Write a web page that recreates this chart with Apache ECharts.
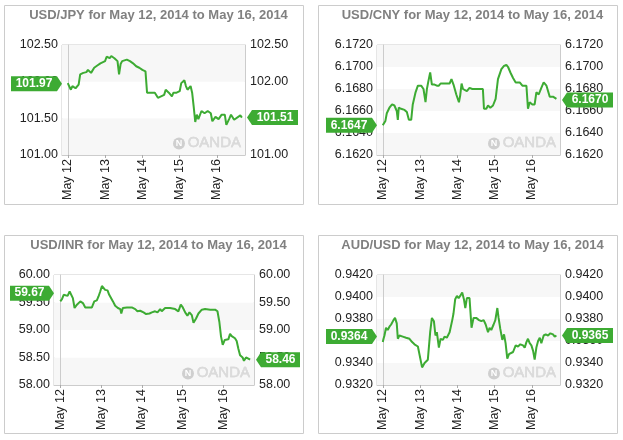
<!DOCTYPE html>
<html>
<head>
<meta charset="utf-8">
<script src="https://cdn.jsdelivr.net/npm/echarts@6/dist/echarts.min.js"></script>
<style>
  html, body { margin: 0; padding: 0; background: #fff; }
  #chart { width: 623px; height: 440px; }
</style>
</head>
<body>
<div id="chart"></div>
<script>
// hours after May 12 00:00, rate
const usdJpy = [[0,101.98],[1,101.96],[2,101.89],[3,101.94],[5,101.91],[7,101.96],[8,102.10],[10,102.12],[12,102.13],[13,102.16],[15,102.12],[17,102.19],[19,102.22],[21,102.25],[24,102.28],[25,102.34],[27,102.32],[28,102.35],[30,102.32],[31,102.30],[32,102.28],[33,102.10],[34,102.24],[35,102.28],[38,102.30],[40,102.28],[42,102.25],[44,102.21],[46,102.19],[48,102.16],[50,102.14],[51,101.85],[54,101.85],[56,101.85],[58,101.78],[59,101.79],[60,101.80],[62,101.82],[63,101.89],[65,101.85],[67,101.80],[68,101.85],[70,101.85],[72,101.87],[73,101.98],[75,102.02],[76,101.94],[77,101.89],[79,101.94],[80,101.85],[81,101.66],[82,101.45],[83,101.55],[84,101.49],[86,101.60],[88,101.57],[90,101.60],[92,101.57],[93,101.46],[95,101.52],[97,101.49],[99,101.55],[101,101.55],[102,101.41],[104,101.50],[105,101.55],[107,101.48],[108,101.49],[111,101.54],[112,101.51]];

const usdCny = [[0,6.1647],[0.6,6.1646],[1.7,6.1651],[2.6,6.1658],[4.3,6.1663],[6.0,6.1666],[7.5,6.1665],[9.0,6.1660],[9.7,6.1652],[10.3,6.1663],[11.8,6.1662],[14.0,6.1661],[15.5,6.1659],[16.8,6.1652],[18.3,6.1652],[19.3,6.1666],[21.1,6.1677],[22.6,6.1683],[24.7,6.1683],[26.2,6.1680],[27.5,6.1668],[28.4,6.1680],[29.2,6.1686],[30.5,6.1695],[31.6,6.1684],[33.3,6.1684],[34.8,6.1683],[36.1,6.1683],[37.2,6.1685],[39.7,6.1685],[43.0,6.1685],[44.2,6.1689],[45.5,6.1684],[47.3,6.1675],[49.0,6.1668],[49.8,6.1674],[50.7,6.1685],[51.6,6.1680],[52.8,6.1681],[54.1,6.1678],[55.8,6.1681],[57.6,6.1680],[59.1,6.1680],[61.9,6.1680],[64.4,6.1680],[65.1,6.1662],[66.6,6.1662],[67.7,6.1665],[69.2,6.1663],[70.9,6.1665],[72.6,6.1671],[74.1,6.1689],[76.3,6.1698],[78.0,6.1701],[79.5,6.1702],[80.6,6.1700],[82.1,6.1695],[83.8,6.1690],[85.5,6.1686],[88.1,6.1686],[89.8,6.1683],[92.4,6.1683],[93.4,6.1662],[94.5,6.1668],[96.2,6.1666],[97.7,6.1666],[98.8,6.1677],[100.3,6.1675],[102.0,6.1681],[103.5,6.1686],[105.3,6.1683],[107.4,6.1673],[109.5,6.1673],[111.7,6.1671]];

const usdInr = [[0,59.52],[1.0,59.56],[2.0,59.64],[2.9,59.61],[4.3,59.62],[5.5,59.70],[6.3,59.68],[7.4,59.58],[8.4,59.40],[9.8,59.46],[11.8,59.52],[13.3,59.49],[14.7,59.41],[16.7,59.41],[18.6,59.41],[20.0,59.52],[21.5,59.54],[22.5,59.61],[23.5,59.70],[24.5,59.80],[25.5,59.78],[26.4,59.73],[27.8,59.72],[28.8,59.64],[29.8,59.62],[31.0,59.52],[32.3,59.44],[33.9,59.40],[35.3,59.38],[35.9,59.30],[36.8,59.40],[39.2,59.41],[42.1,59.41],[44.1,59.38],[45.4,59.34],[47.0,59.35],[49.0,59.32],[50.5,59.29],[52.5,59.30],[53.9,59.32],[55.8,59.34],[57.2,59.32],[58.8,59.38],[59.7,59.34],[61.7,59.40],[64.6,59.40],[67.6,59.38],[69.5,59.34],[70.9,59.46],[72.1,59.41],[73.5,59.32],[74.8,59.26],[76.0,59.32],[77.4,59.27],[78.4,59.13],[79.9,59.21],[81.3,59.30],[83.3,59.37],[85.2,59.38],[88.2,59.37],[91.1,59.37],[92.5,59.34],[93.6,59.15],[94.6,58.88],[95.6,58.73],[96.8,58.82],[97.9,58.85],[98.9,58.83],[99.9,58.93],[100.9,58.89],[101.9,58.92],[102.8,58.85],[103.8,58.80],[104.8,58.66],[105.8,58.54],[107.3,58.50],[108.1,58.44],[109.3,58.50],[110.7,58.48],[111.7,58.46]];

const audUsd = [[0,0.9359],[0.5,0.9362],[1.1,0.9365],[2.1,0.9372],[3.2,0.9370],[4.3,0.9373],[5.4,0.9375],[6.9,0.9379],[7.9,0.9381],[9.0,0.9376],[9.7,0.9362],[10.7,0.9365],[12.9,0.9364],[15.0,0.9363],[17.2,0.9362],[18.9,0.9359],[20.4,0.9357],[22.6,0.9355],[23.6,0.9354],[25.3,0.9336],[26.9,0.9340],[29.0,0.9343],[30.5,0.9368],[31.6,0.9381],[32.9,0.9378],[33.9,0.9365],[34.8,0.9368],[36.1,0.9354],[37.2,0.9362],[38.7,0.9361],[39.7,0.9364],[41.2,0.9363],[43.0,0.9368],[44.7,0.9379],[45.5,0.9385],[46.6,0.9398],[47.7,0.9401],[48.8,0.9399],[49.8,0.9401],[51.1,0.9404],[52.2,0.9398],[53.1,0.9390],[54.1,0.9399],[55.8,0.9399],[57.1,0.9372],[58.4,0.9381],[60.1,0.9381],[61.9,0.9379],[63.4,0.9378],[64.9,0.9379],[66.2,0.9375],[67.7,0.9368],[68.7,0.9372],[69.8,0.9370],[71.3,0.9375],[72.4,0.9379],[73.7,0.9390],[74.5,0.9381],[75.6,0.9371],[76.9,0.9361],[78.0,0.9366],[79.0,0.9358],[80.1,0.9344],[81.2,0.9348],[82.3,0.9347],[83.8,0.9350],[85.5,0.9356],[87.0,0.9355],[88.5,0.9357],[90.2,0.9356],[91.3,0.9354],[92.4,0.9359],[93.4,0.9362],[94.5,0.9358],[95.6,0.9356],[96.7,0.9351],[97.7,0.9343],[98.8,0.9354],[99.9,0.9360],[101.0,0.9363],[102.0,0.9358],[103.5,0.9365],[104.8,0.9366],[106.3,0.9365],[107.8,0.9367],[109.5,0.9366],[110.6,0.9364],[111.7,0.9365]];

const dayTicks = [0, 24, 48, 72, 96];
const dayLabels = ['May 12', 'May 13', 'May 14', 'May 15', 'May 16'];
const pairs = ['USD/JPY', 'USD/CNY', 'USD/INR', 'AUD/USD'];
const openTags = ['101.97', '6.1647', '59.67', '0.9364'];
const closeTags = ['101.51', '6.1670', '58.46', '0.9365'];
const yRanges = [[101, 102.5, 0.5], [6.162, 6.172, 0.002], [58, 60, 0.5], [0.932, 0.942, 0.002]];
const yDecimals = [2, 4, 2, 4];

const X_MIN = -3.7
const X_MAX = 114
const GREEN = '#3dab33'
const FONT = 'Liberation Sans, Arial, sans-serif'

const seriesData = [usdJpy, usdCny, usdInr, audUsd]
const grids = [
  { left: 62, top: 45, width: 183, height: 110 },
  { left: 377, top: 45, width: 183, height: 110 },
  { left: 54, top: 275, width: 200, height: 110 },
  { left: 377, top: 275, width: 183, height: 110 }
]
const boxes = [[4, 5, 299, 199], [318, 5, 299, 199], [4, 235, 299, 198], [318, 235, 299, 198]]

const tagPath = (w, pointRight) => pointRight
  ? `path://M0,0L${w},0L${w + 5},7.5L${w},15L0,15Z`
  : `path://M5,0L${w + 5},0L${w + 5},15L5,15L0,7.5Z`

const option = {
  animation: false,
  title: [],
  grid: [],
  xAxis: [],
  yAxis: [],
  series: [],
  graphic: []
}

grids.forEach((g, i) => {
  const [yMin, yMax, yStep] = yRanges[i]
  const dec = yDecimals[i]
  const axisText = { color: '#222', fontSize: 12.5, fontFamily: FONT }

  option.title.push({
    text: `${pairs[i]} for May 12, 2014 to May 16, 2014`,
    left: boxes[i][0] + boxes[i][2] / 2,
    top: boxes[i][1] - 1,
    textAlign: 'center',
    textStyle: { color: '#808080', fontSize: 13, fontWeight: 'bold', fontFamily: FONT }
  })

  option.grid.push({ ...g, show: true, borderColor: '#ccc', borderWidth: 1, backgroundColor: 'transparent' })

  option.xAxis.push({
    type: 'value',
    gridIndex: i,
    min: X_MIN,
    max: X_MAX,
    axisLine: { show: true, lineStyle: { color: '#ccc' } },
    axisTick: { show: true, customValues: dayTicks, length: 3, lineStyle: { color: '#aaa' } },
    axisLabel: {
      customValues: dayTicks,
      rotate: 90,
      margin: 4,
      ...axisText,
      formatter: v => dayLabels[Math.round(v / 24)]
    },
    splitLine: { show: false }
  })

  const yBase = {
    type: 'value',
    gridIndex: i,
    min: yMin,
    max: yMax,
    interval: yStep,
    axisLine: { show: true, lineStyle: { color: '#ccc' } },
    axisTick: { show: false },
    splitLine: { show: false }
  }
  option.yAxis.push({
    ...yBase,
    position: 'left',
    axisLabel: { ...axisText, margin: 4, formatter: v => v.toFixed(dec) },
    splitArea: { show: true, areaStyle: { color: ['#f7f7f7', '#ffffff'] } }
  })
  option.yAxis.push({
    ...yBase,
    position: 'right',
    axisLabel: { ...axisText, margin: 5, formatter: v => v.toFixed(dec) },
    splitArea: { show: false }
  })

  const wOpen = openTags[i].length * 7 + 4
  const wClose = closeTags[i].length * 7 + 4
  const tagLabel = { show: true, position: 'inside', color: '#fff', fontSize: 12, fontWeight: 'bold', fontFamily: FONT }

  option.series.push({
    type: 'line',
    xAxisIndex: i,
    yAxisIndex: i * 2,
    data: seriesData[i],
    showSymbol: false,
    clip: false,
    lineStyle: { color: GREEN, width: 2 },
    markPoint: {
      silent: true,
      data: [
        {
          coord: [X_MIN, parseFloat(openTags[i])],
          symbol: tagPath(wOpen, true),
          symbolSize: [wOpen + 5, 15],
          symbolOffset: [-(wOpen + 5) / 2, 0],
          itemStyle: { color: GREEN },
          label: { ...tagLabel, offset: [-2.5, 0], formatter: openTags[i] }
        },
        {
          coord: [X_MAX, parseFloat(closeTags[i])],
          symbol: tagPath(wClose, false),
          symbolSize: [wClose + 5, 15],
          symbolOffset: [(wClose + 5) / 2 + 2, 0],
          itemStyle: { color: GREEN },
          label: { ...tagLabel, offset: [2.5, 0], formatter: closeTags[i] }
        }
      ]
    }
  })

  // panel frame
  const [bx, by, bw, bh] = boxes[i]
  option.graphic.push({
    type: 'rect',
    shape: { x: bx + 0.5, y: by + 0.5, width: bw, height: bh },
    style: { fill: 'none', stroke: '#ccc', lineWidth: 1 },
    silent: true
  })

  // OANDA watermark
  const right = g.left + g.width
  const bottom = g.top + g.height
  option.graphic.push({
    type: 'circle',
    shape: { cx: right - 66, cy: bottom - 11.5, r: 6 },
    style: { fill: '#cfcfcf' },
    silent: true,
    z: 1
  })
  option.graphic.push({
    type: 'text',
    x: right - 66,
    y: bottom - 11.5,
    style: { text: 'N', fill: '#fff', font: 'bold 9px ' + FONT, align: 'center', verticalAlign: 'middle' },
    silent: true,
    z: 1
  })
  option.graphic.push({
    type: 'text',
    x: right - 4,
    y: bottom - 5,
    style: { text: 'OANDA', fill: '#dadada', stroke: '#c8c8c8', lineWidth: 0.4, font: '15px ' + FONT, align: 'right', verticalAlign: 'bottom' },
    silent: true,
    z: 1
  })
})

const chart = echarts.init(document.getElementById('chart'))
chart.setOption(option)
window.addEventListener('resize', () => chart.resize())
</script>
</body>
</html>
